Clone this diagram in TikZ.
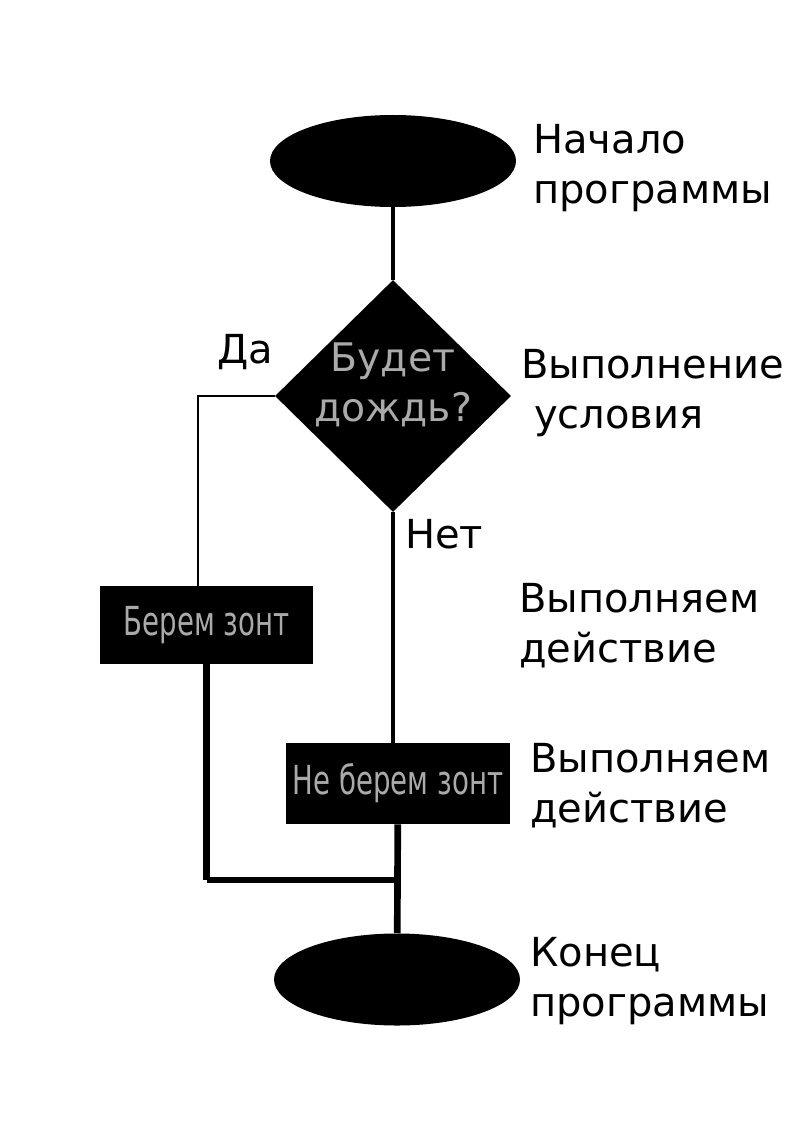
\documentclass[tikz,border=0pt]{standalone}
\usepackage{fontspec}
\setmainfont{DejaVu Sans}
\usetikzlibrary{shapes.geometric}
\definecolor{boxtext}{RGB}{170,170,170}
\tikzset{
  blk/.style={fill=black,draw=none},
  term/.style={blk,ellipse,minimum width=184.5pt,minimum height=69pt},
  decide/.style={blk,diamond,minimum width=177pt,minimum height=174pt,inner sep=0pt},
  act/.style={blk,rectangle,text=boxtext,inner sep=0pt,font=\fontsize{30}{36}\selectfont},
  note/.style={anchor=west,align=left,inner sep=0pt,font=\fontsize{30}{37.5}\selectfont},
  answer/.style={inner sep=0pt,font=\fontsize{30}{37.5}\selectfont},
}
\newcommand{\narrowtext}[1]{\scalebox{0.69}[1]{#1}}

\begin{document}
\begin{tikzpicture}[x=0.75pt,y=-0.75pt]
\useasboundingbox (0,0) rectangle (794,1123);
    %Bloques
    \node[term] (start) at (393,161) {};
    \node[decide,label={[yshift=8.25pt,align=center,text=boxtext,font=\fontsize{29.5}{37.5}\selectfont]center:{Будет\\дождь?}}] (rain) at (393,396) {};
    \node[act,minimum width=159.75pt,minimum height=58.5pt] (take) at (206.5,625) {\narrowtext{Берем зонт}};
    \node[act,minimum width=168pt,minimum height=60.75pt] (notake) at (398,783.5) {\narrowtext{Не берем зонт}};
    \node[term] (stop) at (397,979.5) {};
    \coordinate (join) at (398,880);

    %Lineas
    \draw[line width=2.4pt] (start) -- (rain);
    \draw[line width=1.2pt] (rain.west) -| ([xshift=-6.4pt]take.north);
    \draw[line width=3.2pt] (rain.south) -- (rain.south |- notake.north);
    \draw[line width=5pt] (take.south) -- (take.south |- join);
    \draw[line width=4.2pt] (take.south |- join) -- (join);
    \draw[line width=5pt] (notake) -- (stop);

    %Textos
    \node[answer] (yes) at (245,352) {Да};
    \node[answer,anchor=west] (no) at (405,534) {Нет};
    \node[note] (startnote) at (533,168) {Начало\\программы};
    \node[note] (rainnote) at (521,393) {Выполнение\\\hspace*{0.32em}условия};
    \node[note] (takenote) at (519,626) {Выполняем\\действие};
    \node[note] (notakenote) at (530,786) {Выполняем\\действие};
    \node[note] (stopnote) at (530,981) {Конец\\программы};
\end{tikzpicture}
\end{document}
